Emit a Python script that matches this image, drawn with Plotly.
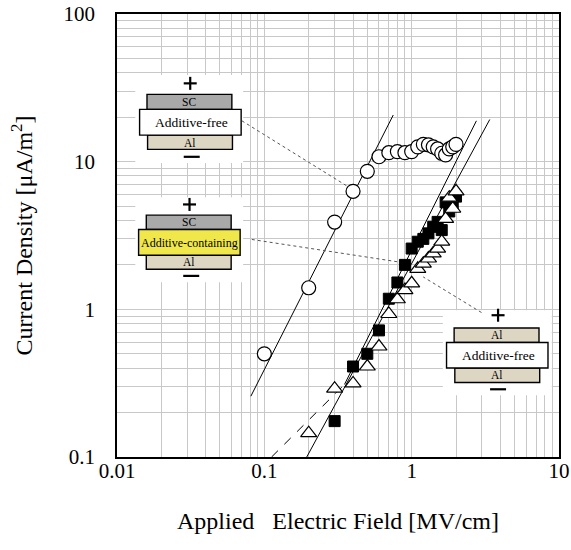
import plotly.graph_objects as go

# ---------------- data ----------------
x_circle = [0.1, 0.2, 0.3, 0.4, 0.5, 0.6, 0.7, 0.8, 0.9, 1.0,
            1.1, 1.2, 1.3, 1.4, 1.5, 1.6, 1.7, 1.8, 1.9, 2.0]
y_circle = [0.50, 1.40, 3.9, 6.3, 8.6, 10.8, 11.5, 11.7, 11.5, 11.7,
            12.6, 13.1, 13.0, 12.6, 12.2, 11.4, 11.1, 12.2, 12.6, 13.1]

x_square = [0.3, 0.4, 0.5, 0.6, 0.7, 0.8, 0.9, 1.0, 1.1, 1.2,
            1.3, 1.4, 1.5, 1.6, 1.7, 1.8, 1.9, 2.0]
y_square = [0.175, 0.41, 0.50, 0.72, 1.18, 1.52, 2.0, 2.58, 2.87, 3.0,
            3.27, 3.62, 3.91, 3.44, 5.3, 4.6, 5.1, 5.8]

x_triangle = [0.2, 0.3, 0.4, 0.5, 0.6, 0.7, 0.8, 0.9, 1.0, 1.1,
              1.2, 1.3, 1.4, 1.5, 1.6, 1.7, 1.8, 1.9, 2.0]
y_triangle = [0.145, 0.29, 0.315, 0.41, 0.56, 0.93, 1.17, 1.35, 1.5, 1.88,
              2.04, 2.21, 2.39, 2.58, 2.87, 4.1, 5.7, 4.8, 6.3]

fit_circle_x = [0.081, 0.75]
fit_circle_y = [0.258, 20.7]
fit_triangle_x = [0.194, 3.39]
fit_triangle_y = [0.1, 19.3]
fit_square_low_x = [0.112, 0.35]
fit_square_low_y = [0.1, 0.31]
fit_square_x = [0.35, 2.75]
fit_square_y = [0.31, 18.9]

x_tickvals = [0.01, 0.1, 1, 10]
x_ticktext = ["0.01", "0.1", "1", "10"]
y_tickvals = [0.1, 1, 10, 100]
y_ticktext = ["0.1", "1", "10", "100"]

FONT = "Liberation Serif, Times New Roman, serif"

fig = go.Figure()

line_style = dict(color="black", width=1)
fig.add_trace(go.Scatter(x=fit_circle_x, y=fit_circle_y, mode="lines", line=line_style, hoverinfo="skip"))
fig.add_trace(go.Scatter(x=fit_triangle_x, y=fit_triangle_y, mode="lines", line=line_style, hoverinfo="skip"))
fig.add_trace(go.Scatter(x=fit_square_x, y=fit_square_y, mode="lines", line=line_style, hoverinfo="skip"))
fig.add_trace(go.Scatter(x=fit_square_low_x, y=fit_square_low_y, mode="lines",
                         line=dict(color="black", width=1, dash="dash"), hoverinfo="skip"))

fig.add_trace(go.Scatter(x=x_circle, y=y_circle, mode="markers",
                         marker=dict(symbol="circle", size=14, color="white",
                                     line=dict(color="black", width=1.2))))
fig.add_trace(go.Scatter(x=x_square, y=y_square, mode="markers",
                         marker=dict(symbol="square", size=11, color="black",
                                     line=dict(color="black", width=1))))
fig.add_trace(go.Scatter(x=x_triangle, y=y_triangle, mode="markers",
                         marker=dict(symbol="triangle-up", size=14, color="white",
                                     line=dict(color="black", width=1.2))))

# plot-area geometry in window pixels (page body margin removed via post_script)
L, R, T, B = 116.67, 559.33, 14.0, 456.67
W, H = 571, 550


def PX(px):
    return (px - L) / (R - L)


def PY(py):
    return (B - py) / (B - T)


shapes = []
annotations = []


def rect(x0, y0, x1, y1, fill, lw=1.4, lc="black"):
    shapes.append(dict(type="rect", xref="paper", yref="paper",
                       x0=PX(x0), x1=PX(x1), y0=PY(y1), y1=PY(y0),
                       fillcolor=fill, line=dict(color=lc, width=lw), layer="above"))


def seg(x0, y0, x1, y1, color="black", width=2, dash="solid"):
    shapes.append(dict(type="line", xref="paper", yref="paper",
                       x0=PX(x0), x1=PX(x1), y0=PY(y0), y1=PY(y1),
                       line=dict(color=color, width=width, dash=dash), layer="above"))


def text(x, y, s, size):
    annotations.append(dict(x=PX(x), y=PY(y), xref="paper", yref="paper", text=s,
                            showarrow=False, xanchor="center", yanchor="middle",
                            font=dict(family=FONT, size=size, color="black")))


def plus(cx, cy):
    seg(cx - 6.5, cy, cx + 6.5, cy, width=2.2)
    seg(cx, cy - 6.5, cx, cy + 6.5, width=2.2)


def minus(cx, cy):
    seg(cx - 8, cy, cx + 8, cy, width=2.2)


GRAY = "#a9a9a9"
TAN = "#ddd6c3"
YEL = "#f0e84a"

# inset white backgrounds
rect(135, 75, 243, 163, "white", lw=0, lc="white")
rect(135, 197, 243, 282, "white", lw=0, lc="white")
rect(443, 310, 552, 395, "white", lw=0, lc="white")

# connectors
seg(241.7, 120.7, 348.3, 186.7, color="#555555", width=1, dash="dot")
seg(251.7, 239.3, 398.3, 261.7, color="#555555", width=1, dash="dot")
seg(481.7, 312.3, 423.3, 276.7, color="#555555", width=1, dash="dot")

# inset 1: SC / Additive-free / Al
rect(146.7, 94.3, 231.7, 109.3, GRAY)
rect(147.3, 135, 232.3, 149.3, TAN)
rect(139.3, 109.3, 241, 135, "white")
text(189, 102, "SC", 11.5)
text(191, 122.5, "Additive-free", 13.5)
text(190, 142.5, "Al", 11.5)
plus(190, 83.3)
minus(191.5, 156.7)

# inset 2: SC / Additive-containing / Al
rect(146, 215, 231, 229.3, GRAY)
rect(146, 255, 231, 269, TAN)
rect(138.3, 229.3, 240, 255, YEL)
text(188.5, 222.3, "SC", 11.5)
text(189.2, 242.5, "Additive-containing", 12)
text(188.5, 262.3, "Al", 11.5)
plus(189.3, 204.3)
minus(191, 275.7)

# inset 3: Al / Additive-free / Al
rect(454.3, 327.7, 539.3, 342.3, TAN)
rect(455, 367.7, 540, 382.3, TAN)
rect(446.7, 342.3, 548.3, 367.7, "white")
text(497, 335.2, "Al", 11.5)
text(498.5, 355.5, "Additive-free", 13.5)
text(497.5, 375.2, "Al", 11.5)
plus(498.3, 315)
minus(498.3, 389)

# minor grid positions
x_minor = [m * 10 ** e for e in (-2, -1, 0) for m in range(2, 10)]
y_minor = [m * 10 ** e for e in (-1, 0, 1) for m in range(2, 10)]

GRID = "#c8c8c8"
axis_common = dict(type="log", showgrid=True, gridcolor=GRID, gridwidth=1.3,
                   showline=True, linecolor="black", linewidth=1.5, mirror=True,
                   ticks="", zeroline=False, automargin=False,
                   tickfont=dict(family=FONT, size=21, color="black"))

fig.update_layout(
    width=W, height=H,
    margin=dict(l=L, r=W - R, t=T, b=H - B, autoexpand=False),
    paper_bgcolor="white", plot_bgcolor="white",
    showlegend=False,
    xaxis=dict(axis_common, range=[-2, 1], tickmode="array", tickvals=x_tickvals, ticktext=x_ticktext,
               ticklabelstandoff=-6,
               minor=dict(tickmode="array", tickvals=x_minor, showgrid=True, gridcolor=GRID, gridwidth=1.3),
               title=dict(text="Applied   Electric Field [MV/cm]", standoff=30,
                          font=dict(family=FONT, size=24, color="black"))),
    yaxis=dict(axis_common, range=[-1, 2], tickmode="array", tickvals=y_tickvals, ticktext=y_ticktext,
               ticklabelstandoff=16,
               minor=dict(tickmode="array", tickvals=y_minor, showgrid=True, gridcolor=GRID, gridwidth=1.3),
               title=dict(text="Current Density [μA/m<sup>2</sup>]", standoff=24,
                          font=dict(family=FONT, size=24, color="black"))),
    shapes=shapes,
    annotations=annotations,
)

fig.write_html("out.html", config={"displayModeBar": False},
               post_script="document.body.style.margin='0px';")
